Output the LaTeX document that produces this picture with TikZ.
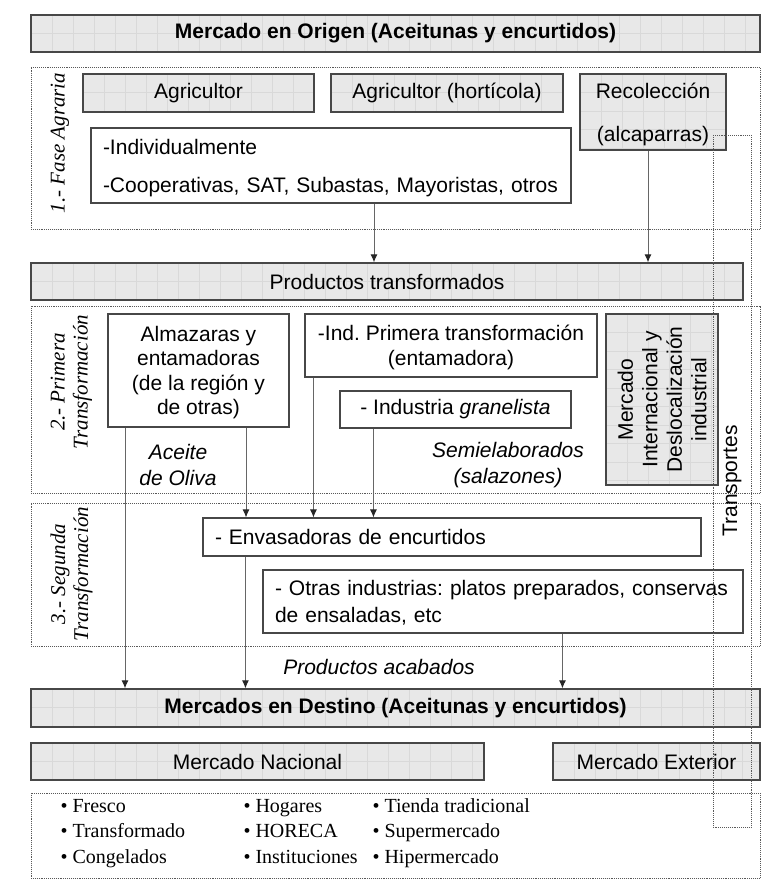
\documentclass[tikz,border=0pt]{standalone}
\usepackage{fontspec}
\setmainfont{Liberation Sans}
\newfontfamily\serifit{Liberation Serif}
\usetikzlibrary{arrows.meta}
\frenchspacing

\begin{document}
\begin{tikzpicture}[
    x=1pt, y=-1pt,
    font=\fontsize{21}{24.5}\selectfont,
    gridline/.style={black!15, line width=0.6pt},
    greybox/.style={rectangle, draw=black!72, line width=1.3pt, fill=black!9, inner sep=0pt,
        path picture={
            \foreach \i in {1,...,36}
                \draw[gridline] ([xshift=\i*21pt]path picture bounding box.north west) -- ++(0pt,-200pt);
            \foreach \j in {1,...,9}
                \draw[gridline] ([yshift=-\j*18.5pt]path picture bounding box.north west) -- ++(800pt,0pt);
        }},
    whitebox/.style={rectangle, draw=black!72, line width=1.1pt, fill=white, inner sep=0pt},
    zone/.style={rectangle, draw=black!65, densely dotted, line width=0.9pt, inner sep=0pt},
    sidelabel/.style={rotate=90, font=\serifit\itshape\fontsize{21}{23}\selectfont, align=center},
    note/.style={font=\itshape\fontsize{21}{26}\selectfont, align=center},
    bullets/.style={anchor=base west, align=left, font=\serifit\fontsize{20}{25.5}\selectfont},
    arrow/.style={-{Latex[length=8pt,width=7pt,color=black!85]}, draw=black!60, line width=1pt}
]
    \useasboundingbox (0,0) rectangle (763,885);

    \node[zone, minimum width=729pt, minimum height=162pt] (fase) at (395.5,148) {};
    \node[zone, minimum width=729pt, minimum height=187pt] (primera) at (395.5,399.5) {};
    \node[zone, minimum width=729pt, minimum height=143pt] (segunda) at (395.5,574.5) {};
    \node[zone, minimum width=729pt, minimum height=85pt] (canales) at (395.5,835.5) {};

    \node[sidelabel] (faselbl) at (60,143) {1.- Fase Agraria};
    \node[sidelabel] (primeralbl) at (71.5,382) {2.- Primera\\Transformación};
    \node[sidelabel] (segundalbl) at (71.5,574) {3.- Segunda\\Transformación};

    \node[greybox, minimum width=729pt, minimum height=37pt, font=\bfseries\fontsize{21}{24}\selectfont] (origen) at (395.5,33.5) {Mercado en Origen (Aceitunas y encurtidos)};
    \node[greybox, minimum width=231pt, minimum height=38pt] (agricultor) at (198.5,93) {Agricultor};
    \node[greybox, minimum width=232pt, minimum height=38pt] (horticola) at (447,93) {Agricultor (hortícola)};
    \node[greybox, minimum width=146pt, minimum height=76pt, align=center, text depth=0pt, font=\fontsize{21}{43}\selectfont] (recoleccion) at (653,112) {Recolección\\(alcaparras)};
    \node[whitebox, minimum width=480pt, minimum height=75pt, text width=456pt, align=left, text depth=38pt, font=\fontsize{21}{38}\selectfont] (individual) at (331,165.5) {-Individualmente\\-Cooperativas, SAT, Subastas, Mayoristas, otros};

    \node[greybox, minimum width=712pt, minimum height=37pt] (productos) at (387,281.5) {Productos transformados};

    \node[whitebox, minimum width=181pt, minimum height=113pt, align=center, text depth=0pt] (almazaras) at (198.5,370.5) {Almazaras y\\entamadoras\\(de la región y\\de otras)};
    \node[whitebox, minimum width=292pt, minimum height=63pt, align=center, text depth=0pt] (indprimera) at (451,345.5) {-Ind. Primera transformación\\(entamadora)};
    \node[whitebox, minimum width=231pt, minimum height=37pt] (granelista) at (455.5,409.5) {- Industria \textit{granelista}};
    \node[greybox, minimum width=112pt, minimum height=171pt] (mercint) at (662,399.5) {};
    \node[rotate=90, align=center] (mercintlbl) at (mercint.center) {Mercado\\Internacional y\\Deslocalización\\industrial};
    \node[note] (aceite) at (178,465) {Aceite\\de Oliva};
    \node[note] (semielab) at (508,465) {Semielaborados\\(salazones)};

    \node[whitebox, minimum width=498pt, minimum height=38pt, text width=474pt, align=left] (envasadoras) at (452,537) {- Envasadoras de encurtidos};
    \node[whitebox, minimum width=480pt, minimum height=63pt, text width=456pt, align=left, text depth=27pt, font=\fontsize{21}{27}\selectfont] (otras) at (503,601.5) {\mbox{- Otras industrias: platos preparados, conservas}\\de ensaladas, etc};
    \node[note] (acabados) at (379,667) {Productos acabados};

    \node[greybox, minimum width=729pt, minimum height=38pt, font=\bfseries\fontsize{21}{24}\selectfont] (destino) at (395.5,708) {Mercados en Destino (Aceitunas y encurtidos)};
    \node[greybox, minimum width=453pt, minimum height=37pt] (nacional) at (257.5,761.5) {Mercado Nacional};
    \node[greybox, minimum width=207pt, minimum height=37pt] (exterior) at (656.5,761.5) {Mercado Exterior};

    \node[bullets] (producto) at (57,863) {\textbullet{} Fresco\\\textbullet{} Transformado\\\textbullet{} Congelados};
    \node[bullets] (consumo) at (240,863) {\textbullet{} Hogares\\\textbullet{} HORECA\\\textbullet{} Instituciones};
    \node[bullets] (tienda) at (369,863) {\textbullet{} Tienda tradicional\\\textbullet{} Supermercado\\\textbullet{} Hipermercado};

    \draw[arrow] ([xshift=43pt]individual.south) -- ([xshift=43pt]individual.south |- productos.north);
    \draw[arrow] ([xshift=-5pt]recoleccion.south) -- ([xshift=-5pt]recoleccion.south |- productos.north);
    \draw[arrow] ([xshift=-73.5pt]almazaras.south) -- ([xshift=-73.5pt]almazaras.south |- destino.north);
    \draw[arrow] ([xshift=47.5pt]almazaras.south) -- ([xshift=47.5pt]almazaras.south |- envasadoras.north);
    \draw[arrow] ([xshift=9pt]indprimera.south west) -- ([xshift=9pt]indprimera.south west |- envasadoras.north);
    \draw[arrow] ([xshift=34pt]granelista.south west) -- ([xshift=34pt]granelista.south west |- envasadoras.north);
    \draw[arrow] ([xshift=43pt]envasadoras.south west) -- ([xshift=43pt]envasadoras.south west |- destino.north);
    \draw[arrow] ([xshift=300pt]otras.south west) -- ([xshift=300pt]otras.south west |- destino.north);

    \node[zone, rotate=90, minimum width=692pt, minimum height=38pt] (transportes) at (732,481) {Transportes};
\end{tikzpicture}
\end{document}
